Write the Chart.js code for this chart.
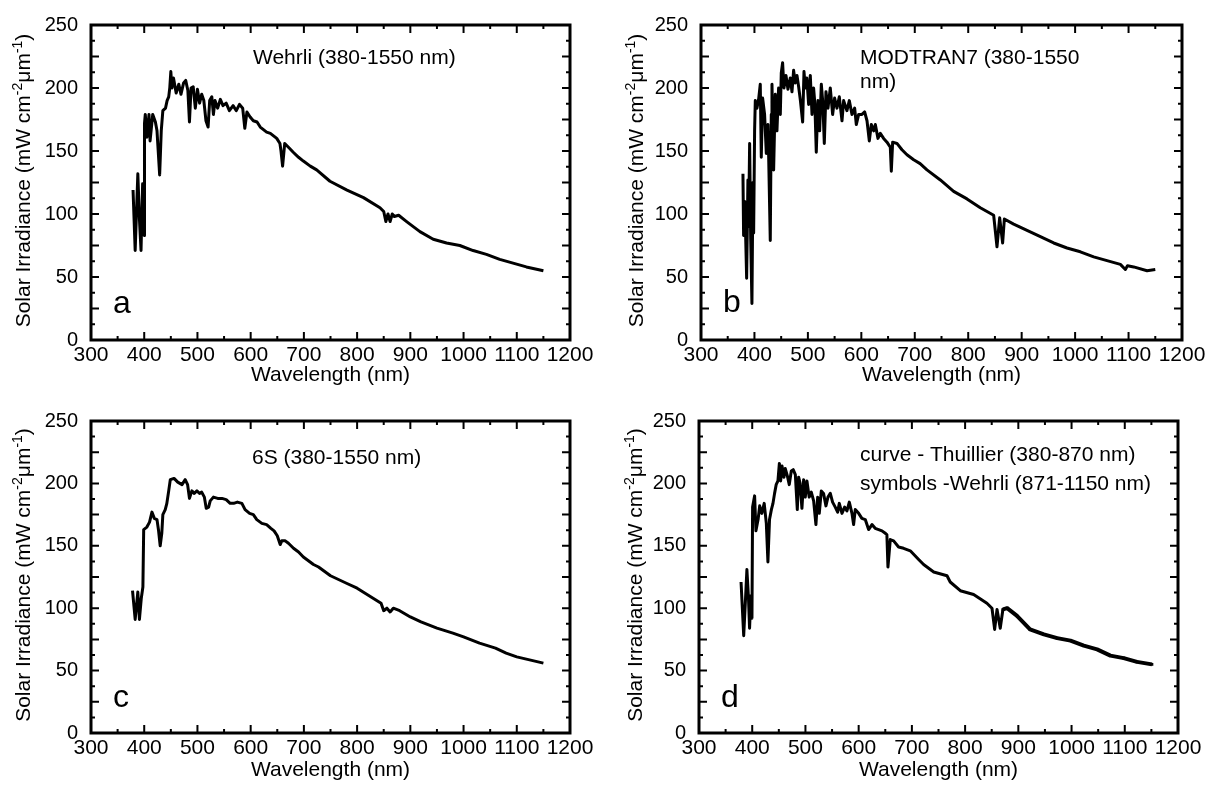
<!DOCTYPE html>
<html>
<head>
<meta charset="utf-8">
<script src="https://cdn.jsdelivr.net/npm/chart.js@4.4.1/dist/chart.umd.min.js"></script>
<style>
 body{margin:0;background:#fff;}
 #wrap{position:relative;width:1210px;height:792px;}
 .panel{position:absolute;width:605px;height:396px;}
</style>
</head>
<body>
<div id="wrap">
 <div class="panel" style="left:0;top:0"><canvas id="pa" width="605" height="396"></canvas></div>
 <div class="panel" style="left:605px;top:0"><canvas id="pb" width="605" height="396"></canvas></div>
 <div class="panel" style="left:0;top:396px"><canvas id="pc" width="605" height="396"></canvas></div>
 <div class="panel" style="left:605px;top:396px"><canvas id="pd" width="605" height="396"></canvas></div>
</div>
<script>
// axis tick labels
const xTicks = [300, 400, 500, 600, 700, 800, 900, 1000, 1100, 1200];
const yTicks = [0, 50, 100, 150, 200, 250];

// a: Wehrli
const wlA = [
 379, 383, 388, 391, 394, 397, 400, 400.5, 402, 405,
 409, 411, 416, 421, 424, 429, 432, 435, 440, 443,
 446, 448, 450, 452, 455, 460, 465, 469, 474, 478,
 482, 485, 488, 492, 496, 500, 504, 508, 512, 516,
 520, 523, 527, 530, 533, 538, 543, 548, 554, 560,
 567, 573, 579, 585, 589, 593, 599, 605, 612, 618,
 624, 630, 637, 643, 649, 655, 657, 660, 664, 671,
 680, 690, 699, 712, 724, 749, 781, 812, 843, 850,
 854, 858, 862, 866, 870, 878, 893, 918, 943, 968,
 993, 1018, 1043, 1068, 1093, 1118, 1150
];
const irrA = [
 119, 71, 132, 96, 71, 124, 83, 172, 179, 161,
 179, 158, 179, 173, 166, 131, 166, 182, 184, 190,
 193, 200, 213, 200, 208, 196, 203, 195, 204, 206,
 198, 173, 200, 201, 184, 199, 188, 195, 190, 174,
 169, 190, 193, 179, 190, 184, 191, 186, 188, 182,
 186, 182, 187, 184, 168, 181, 177, 174, 173, 169,
 167, 165, 164, 162, 160, 156, 150, 138, 156, 153,
 149, 145, 142, 138, 135, 126, 119, 113, 105, 102,
 94, 100, 94, 100, 98, 99, 94, 86, 80, 77,
 75, 71, 68, 64, 61, 58, 55
];

// b: MODTRAN7
const wlB = [
 378.5, 379.7, 382, 385.4, 387.8, 389, 391, 393, 395.3, 397.2,
 398.5, 400.3, 401.6, 404.7, 407.8, 410.9, 412.8, 415.3, 419, 422.2,
 425.3, 426.5, 429.6, 431.5, 432.8, 435.9, 439, 442.1, 445.2, 448.4,
 450.2, 452.7, 455.2, 459, 462.7, 467.1, 470.2, 473.3, 476.4, 479.6,
 482.7, 486, 490.2, 492.7, 495.2, 498, 501.4, 504.5, 507.7, 510.7,
 513, 515.7, 518.9, 522, 525.1, 528, 530.7, 533.8, 537.6, 541.9,
 546.3, 550, 554.4, 558.8, 563.8, 566.9, 573.1, 577.5, 582.5, 587.5,
 590.6, 595, 601.2, 606.2, 610.6, 614.9, 618.7, 623, 626.2, 631.1,
 635.5, 641.7, 648, 654.2, 656.1, 658.6, 666.7, 676, 685.4, 697.9,
 710, 722.8, 747.8, 772.7, 797.7, 822.6, 847.6, 853.8, 858.8, 864.4,
 867.6, 885, 910, 935, 959.9, 984.8, 1009.8, 1034.8, 1059.7, 1084.7,
 1094, 1098, 1109.6, 1134.6, 1150
];
const irrB = [
 132, 83, 110, 49, 127, 90, 156, 80, 29, 125,
 85, 166, 190, 184, 191, 203, 145, 192, 179, 148,
 171, 148, 79, 179, 203, 135, 195, 166, 200, 179,
 212, 220, 200, 210, 199, 208, 197, 214, 204, 210,
 201, 190, 173, 213, 200, 208, 187, 210, 179, 200,
 188, 149, 190, 166, 203, 188, 156, 197, 184, 200,
 179, 192, 184, 193, 174, 190, 182, 190, 179, 184,
 171, 179, 179, 181, 174, 158, 171, 166, 171, 160,
 164, 160, 157, 153, 134, 157, 156, 151, 147, 143,
 140, 135, 127, 118, 112, 105, 99, 74, 97, 77,
 96, 92, 87, 82, 77, 73, 70, 66, 63, 60,
 56, 59, 58, 55, 56
];

// c: 6S
const wlC = [
 378, 383, 388, 391, 394.5, 397.5, 399, 405, 410, 414.5,
 419, 424, 427, 430, 433, 435, 439.5, 442.5, 446, 449,
 456, 463, 471, 477, 481.5, 485, 489.5, 494, 499, 504,
 508, 513, 516.5, 521, 524, 530, 538, 546, 554, 561.5,
 568, 575, 583.5, 589.5, 598, 605, 611.5, 621, 630, 638,
 644, 650, 655.5, 658.5, 665, 671, 680.5, 690, 699, 708.5,
 718, 727.5, 750, 780, 800, 830, 845, 850, 856, 862,
 868, 880, 900, 920, 950, 980, 1000, 1030, 1060, 1080,
 1100, 1120, 1150
];
const irrC = [
 114, 91, 113, 91, 108, 117, 163, 165, 169, 177,
 172, 171, 162, 150, 160, 175, 179, 184, 194, 203,
 204, 201, 199, 203, 199, 188, 194, 192, 194, 192,
 193, 189, 180, 181, 186, 189, 188, 188, 187, 184,
 184, 185, 184, 179, 176, 175, 171, 168, 167, 164,
 162, 158, 151, 154, 154, 152, 148, 145, 141, 138,
 135, 133, 126, 120, 116, 108, 104, 98, 100, 97,
 100, 98, 93, 89, 84, 80, 77, 72, 68, 64,
 61, 59, 56
];

// d: Thuillier curve (380-870 nm)
const wlD = [
 379, 384, 387, 390, 393, 395, 397.5, 399.5, 400.7, 404.5,
 407, 411, 414, 418, 422.5, 426.5, 429.5, 432.5, 436, 439,
 442, 445, 448.3, 451, 453.4, 456, 459.6, 462, 466, 469.6,
 473.4, 477, 481, 484.7, 487.2, 490, 493.4, 496.6, 499.7, 502.8,
 507, 511, 515.4, 519.7, 523, 526, 529.8, 534, 538.5, 542.3,
 546.7, 551, 556, 560.5, 563.6, 568.6, 573.6, 578, 582.4, 587.4,
 590.5, 593.6, 600, 606, 612.4, 618.7, 625, 631, 637.5, 643.8,
 650, 653, 655, 659.4, 665.7, 675, 684.5, 697, 712.7, 722,
 741, 766, 772, 791, 816, 841, 850.5, 855.5, 860, 866,
 871
];
const irrD = [
 121, 78, 104, 131, 108, 84, 110, 92, 181, 190,
 162, 171, 182, 176, 184, 168, 137, 171, 179, 184,
 192, 199, 202, 216, 202, 214, 205, 212, 206, 199,
 210, 211, 207, 179, 205, 200, 180, 203, 189, 202,
 189, 193, 186, 167, 189, 176, 194, 192, 182, 189,
 192, 185, 181, 177, 184, 176, 181, 178, 185, 176,
 167, 179, 176, 172, 171, 163, 167, 164, 163, 162,
 160, 159, 133, 155, 154, 149, 148, 146, 139, 135,
 129, 126, 121, 114, 111, 104, 100, 83, 99, 84,
 99
];
// d: Wehrli symbols (871-1150 nm)
const wlD2 = [871, 879, 897, 922, 948, 973, 998, 1023, 1048, 1073, 1098, 1123, 1151];
const irrD2 = [99, 100, 94, 83, 79, 76, 74, 70, 67, 62, 60, 57, 55];

const FONT = '"Liberation Sans", Arial, sans-serif';
Chart.defaults.font.family = FONT;
Chart.defaults.color = '#000';

function pts(xs, ys) {
 return xs.map((x, i) => ({x: x, y: ys[i]}));
}

// box, inward ticks, y title with superscripts, panel letter and notes
const framePlugin = {
 id: 'frame',
 afterDraw(chart, args, o) {
  const ctx = chart.ctx;
  const a = chart.chartArea;
  const sx = chart.scales.x, sy = chart.scales.y;
  ctx.save();
  ctx.strokeStyle = '#000';
  ctx.lineWidth = 2;
  ctx.beginPath();
  for (let v = sx.min; v <= sx.max; v += 50) {
   const px = sx.getPixelForValue(v);
   const len = v % 100 === 0 ? 8 : 4;
   ctx.moveTo(px, a.bottom); ctx.lineTo(px, a.bottom - len);
   ctx.moveTo(px, a.top); ctx.lineTo(px, a.top + len);
  }
  for (let v = sy.min; v <= sy.max; v += 12.5) {
   const py = sy.getPixelForValue(v);
   const len = v % 25 === 0 ? 8 : 4;
   ctx.moveTo(a.left, py); ctx.lineTo(a.left + len, py);
   ctx.moveTo(a.right, py); ctx.lineTo(a.right - len, py);
  }
  ctx.stroke();
  ctx.lineWidth = 3;
  ctx.strokeRect(a.left, a.top, a.right - a.left, a.bottom - a.top);

  ctx.fillStyle = '#000';
  // y axis title
  const parts = [
   ['Solar Irradiance (mW cm', 21, 0],
   ['-2', 14, -8],
   ['\u03bcm', 21, 0],
   ['-1', 14, -8],
   [')', 21, 0]
  ];
  let total = 0;
  parts.forEach(p => { ctx.font = p[1] + 'px ' + FONT; total += ctx.measureText(p[0]).width; });
  ctx.translate(a.left - o.yTitleOff, (a.top + a.bottom) / 2 - 2);
  ctx.rotate(-Math.PI / 2);
  ctx.textBaseline = 'alphabetic';
  ctx.textAlign = 'left';
  let cx = -total / 2;
  parts.forEach(p => {
   ctx.font = p[1] + 'px ' + FONT;
   ctx.fillText(p[0], cx, p[2]);
   cx += ctx.measureText(p[0]).width;
  });
  ctx.setTransform(1, 0, 0, 1, 0, 0);

  // panel letter
  ctx.font = '32px ' + FONT;
  ctx.fillText(o.letter, a.left + 22, a.bottom - o.letterUp);
  // notes
  ctx.font = '21px ' + FONT;
  o.notes.forEach(n => ctx.fillText(n[0], a.left + o.noteX, a.top + n[1]));
  ctx.restore();
 }
};

function makePanel(id, datasets, p) {
 return new Chart(document.getElementById(id), {
  type: 'line',
  data: {datasets: datasets},
  options: {
   responsive: false,
   animation: false,
   layout: {padding: {top: p.top, right: p.right, left: 0, bottom: 0}},
   plugins: {
    legend: {display: false},
    tooltip: {enabled: false},
    frame: p.frame
   },
   scales: {
    x: {
     type: 'linear', min: 300, max: 1200,
     afterBuildTicks: s => { s.ticks = xTicks.map(v => ({value: v})); },
     afterFit: s => { s.height = p.xH; },
     ticks: {font: {size: 21}, padding: 3, maxRotation: 0, autoSkip: false, callback: v => String(v)},
     grid: {display: false, drawTicks: false},
     border: {display: false},
     title: {display: true, text: 'Wavelength (nm)', font: {size: 21}, padding: {top: 0, bottom: p.titlePad}}
    },
    y: {
     type: 'linear', min: 0, max: 250,
     afterBuildTicks: s => { s.ticks = yTicks.map(v => ({value: v})); },
     afterFit: s => { s.width = p.yW; },
     ticks: {font: {size: 20}, padding: 13, callback: v => String(v)},
     grid: {display: false, drawTicks: false},
     border: {display: false}
    }
   }
  },
  plugins: [framePlugin]
 });
}

function curve(xs, ys, w) {
 return {data: pts(xs, ys), borderColor: '#000', borderWidth: w || 3, pointRadius: 0,
  borderJoinStyle: 'round', tension: 0, fill: false};
}

makePanel('pa', [curve(wlA, irrA)], {
 top: 19, right: 35, yW: 91, xH: 56, titlePad: 8,
 frame: {letter: 'a', letterUp: 27, yTitleOff: 61, noteX: 162, notes: [['Wehrli (380-1550 nm)', 39]]}
});
makePanel('pb', [curve(wlB, irrB)], {
 top: 19, right: 28, yW: 96, xH: 56, titlePad: 8,
 frame: {letter: 'b', letterUp: 28, yTitleOff: 58, noteX: 159, notes: [['MODTRAN7 (380-1550', 39], ['nm)', 63]]}
});
makePanel('pc', [curve(wlC, irrC)], {
 top: 18, right: 35, yW: 91, xH: 59, titlePad: 9,
 frame: {letter: 'c', letterUp: 26, yTitleOff: 61, noteX: 161, notes: [['6S (380-1550 nm)', 43]]}
});
makePanel('pd', [
 curve(wlD, irrD),
 Object.assign(curve(wlD2, irrD2, 4), {pointRadius: 2, pointStyle: 'rect', pointBackgroundColor: '#000', pointBorderWidth: 0})
], {
 top: 18, right: 32, yW: 94, xH: 59, titlePad: 9,
 frame: {letter: 'd', letterUp: 26, yTitleOff: 57, noteX: 161,
  notes: [['curve - Thuillier (380-870 nm)', 40], ['symbols -Wehrli (871-1150 nm)', 69]]}
});
</script>
</body>
</html>
